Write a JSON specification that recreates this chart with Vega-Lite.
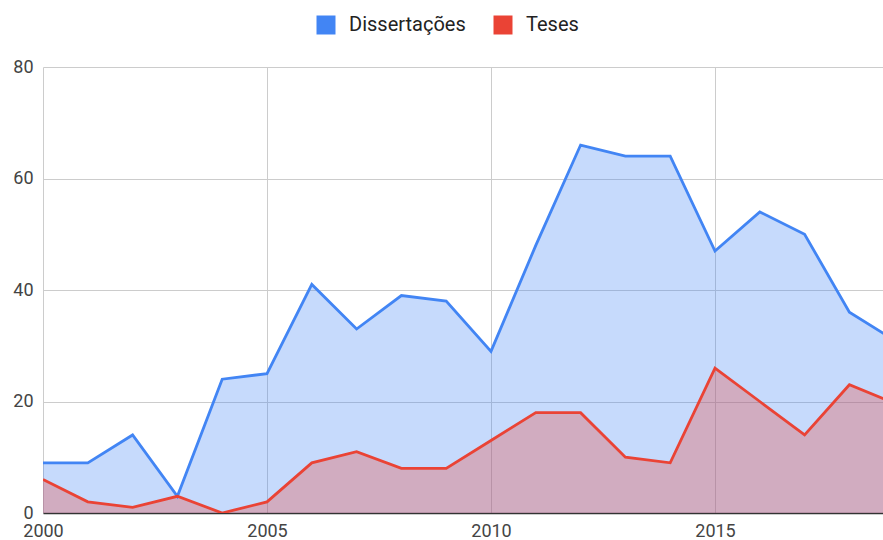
{
  "$schema": "https://vega.github.io/schema/vega-lite/v6.json",
  "autosize": "none",
  "width": 840,
  "height": 446,
  "padding": {"left": 43, "top": 67, "right": 0, "bottom": 27},
  "background": "white",
  "config": {"view": {"stroke": null}, "font": "Roboto"},
  "data": {"values": [
    {"ano": 2000, "serie": "Dissertações", "valor": 9},
    {"ano": 2001, "serie": "Dissertações", "valor": 9},
    {"ano": 2002, "serie": "Dissertações", "valor": 14},
    {"ano": 2003, "serie": "Dissertações", "valor": 3},
    {"ano": 2004, "serie": "Dissertações", "valor": 24},
    {"ano": 2005, "serie": "Dissertações", "valor": 25},
    {"ano": 2006, "serie": "Dissertações", "valor": 41},
    {"ano": 2007, "serie": "Dissertações", "valor": 33},
    {"ano": 2008, "serie": "Dissertações", "valor": 39},
    {"ano": 2009, "serie": "Dissertações", "valor": 38},
    {"ano": 2010, "serie": "Dissertações", "valor": 29},
    {"ano": 2011, "serie": "Dissertações", "valor": 48},
    {"ano": 2012, "serie": "Dissertações", "valor": 66},
    {"ano": 2013, "serie": "Dissertações", "valor": 64},
    {"ano": 2014, "serie": "Dissertações", "valor": 64},
    {"ano": 2015, "serie": "Dissertações", "valor": 47},
    {"ano": 2016, "serie": "Dissertações", "valor": 54},
    {"ano": 2017, "serie": "Dissertações", "valor": 50},
    {"ano": 2018, "serie": "Dissertações", "valor": 36},
    {"ano": 2019, "serie": "Dissertações", "valor": 31},
    {"ano": 2000, "serie": "Teses", "valor": 6},
    {"ano": 2001, "serie": "Teses", "valor": 2},
    {"ano": 2002, "serie": "Teses", "valor": 1},
    {"ano": 2003, "serie": "Teses", "valor": 3},
    {"ano": 2004, "serie": "Teses", "valor": 0},
    {"ano": 2005, "serie": "Teses", "valor": 2},
    {"ano": 2006, "serie": "Teses", "valor": 9},
    {"ano": 2007, "serie": "Teses", "valor": 11},
    {"ano": 2008, "serie": "Teses", "valor": 8},
    {"ano": 2009, "serie": "Teses", "valor": 8},
    {"ano": 2010, "serie": "Teses", "valor": 13},
    {"ano": 2011, "serie": "Teses", "valor": 18},
    {"ano": 2012, "serie": "Teses", "valor": 18},
    {"ano": 2013, "serie": "Teses", "valor": 10},
    {"ano": 2014, "serie": "Teses", "valor": 9},
    {"ano": 2015, "serie": "Teses", "valor": 26},
    {"ano": 2016, "serie": "Teses", "valor": 20},
    {"ano": 2017, "serie": "Teses", "valor": 14},
    {"ano": 2018, "serie": "Teses", "valor": 23},
    {"ano": 2019, "serie": "Teses", "valor": 19.7}
  ]},
  "encoding": {
    "x": {"field": "ano", "type": "quantitative",
      "scale": {"domain": [2000, 2018.75], "nice": false, "zero": false},
      "axis": {"title": null, "values": [2000, 2005, 2010, 2015], "format": "d",
        "labelFont": "Roboto", "labelFontSize": 18, "labelColor": "#444", "labelPadding": 9,
        "ticks": false, "domainColor": "#333", "domainWidth": 1.5,
        "gridColor": "#ccc", "labelFlush": false}},
    "y": {"field": "valor", "type": "quantitative", "stack": null,
      "scale": {"domain": [0, 80], "nice": false},
      "axis": {"title": null, "values": [0, 20, 40, 60, 80],
        "labelFont": "Roboto", "labelFontSize": 18, "labelColor": "#444", "labelPadding": 10,
        "ticks": false, "domain": false, "gridColor": "#ccc"}},
    "color": {"field": "serie", "type": "nominal",
      "scale": {"domain": ["Dissertações", "Teses"], "range": ["#4285f4", "#ea4335"]},
      "legend": {"title": null, "orient": "none", "legendX": 273, "legendY": -52,
        "direction": "horizontal", "symbolType": "square", "symbolSize": 361,
        "symbolStrokeWidth": 0, "symbolOpacity": 1,
        "labelFont": "Roboto", "labelFontSize": 20, "labelColor": "#222",
        "columnPadding": 27, "labelOffset": 13}},
    "order": {"field": "serie"}
  },
  "layer": [
    {"mark": {"type": "area", "opacity": 0.3, "clip": true}},
    {"mark": {"type": "line", "strokeWidth": 2.8, "clip": true}}
  ]
}
